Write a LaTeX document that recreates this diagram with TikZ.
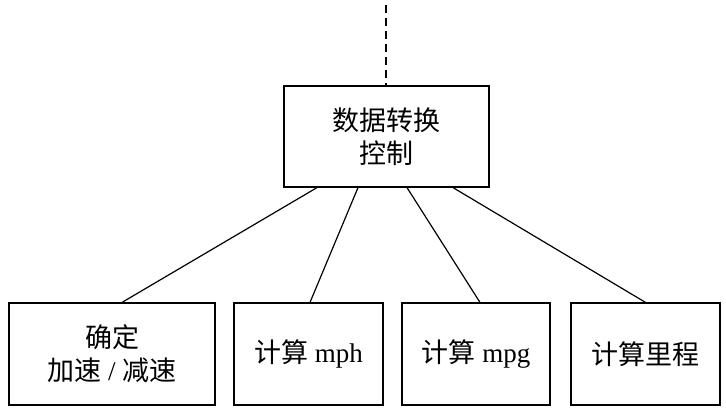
\documentclass[tikz,border=0pt]{standalone}
\usepackage{fontspec}
\setmainfont{Liberation Serif}
\newfontfamily\cjk{Noto Sans CJK SC}
\begin{document}
\begin{tikzpicture}[x=1pt,y=-1pt,
  box/.style={draw,line width=1.2pt,align=center,inner sep=0pt,font=\fontsize{27}{33}\selectfont},
  conn/.style={line width=1.2pt}]
\useasboundingbox (0,0) rectangle (726,416);
\node[box,minimum width=205pt,minimum height=101pt] (top) at (386.5,136.5) {\cjk 数据转换\\\cjk 控制};
\coordinate (dtop) at (386,5);
\draw[conn,dashed,dash pattern=on 8pt off 5pt] (dtop) -- (top.north -| dtop);
\node[box,minimum width=206pt,minimum height=102pt] (b1) at (112,354) {\cjk 确定\\{\cjk 加速} / {\cjk 减速}};
\node[box,minimum width=149pt,minimum height=102pt] (b2) at (308.5,354) {{\cjk 计算} mph};
\node[box,minimum width=148pt,minimum height=102pt] (b3) at (476,354) {{\cjk 计算} mpg};
\node[box,minimum width=149pt,minimum height=102pt] (b4) at (645.5,354) {\cjk 计算里程};
\draw[conn] ([xshift=-69.5pt]top.south) -- ([xshift=10pt]b1.north);
\draw[conn] ([xshift=-28.5pt]top.south) -- ([xshift=1.5pt]b2.north);
\draw[conn] ([xshift=20.5pt]top.south) -- ([xshift=4pt]b3.north);
\draw[conn] ([xshift=66.5pt]top.south) -- ([xshift=0pt]b4.north);
\end{tikzpicture}
\end{document}
